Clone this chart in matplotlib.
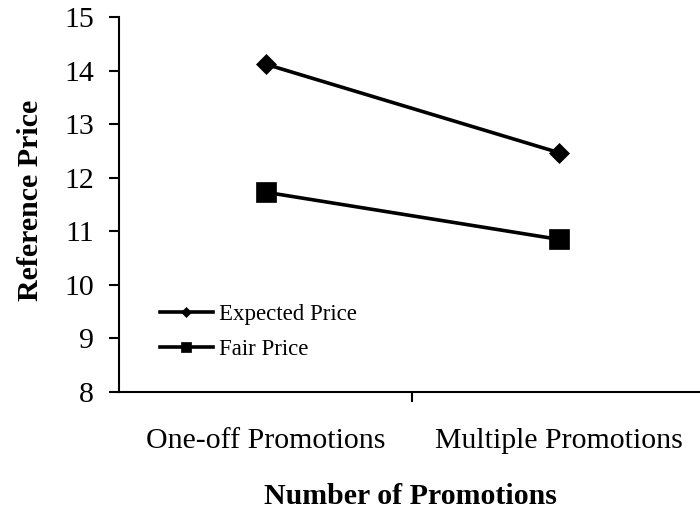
import matplotlib
matplotlib.use("Agg")
import matplotlib.pyplot as plt

categories = ["One-off Promotions", "Multiple Promotions"]
expected_price = [14.12, 12.47]
fair_price = [11.73, 10.85]
y_ticks = [8, 9, 10, 11, 12, 13, 14, 15]

plt.rcParams["font.family"] = ["Liberation Serif", "DejaVu Serif"]

fig = plt.figure(figsize=(7.0, 5.17), dpi=100)
ax = fig.add_axes([119 / 700, 1 - 392 / 517, 586 / 700, 375 / 517])

x = [0.5, 1.5]
ax.plot(x, expected_price, color="black", lw=2.6, marker="D", ms=10.5,
        mew=0.5, label="Expected Price")
ax.plot(x, fair_price, color="black", lw=2.6, marker="s", ms=14,
        mew=0.5, label="Fair Price")

ax.set_xlim(0, 2)
ax.set_ylim(8, 15)
ax.set_yticks(y_ticks)
ax.set_xticks([1.0])
ax.set_xticklabels([""])
ax.xaxis.set_ticks_position("bottom")
for xc, lab in zip(x, categories):
    ax.text(xc, -0.13, lab, transform=ax.get_xaxis_transform(),
            ha="center", va="center", fontsize=21.5)

for s in ["top", "right"]:
    ax.spines[s].set_visible(False)
for s in ["left", "bottom"]:
    ax.spines[s].set_linewidth(1.5)
ax.tick_params(axis="both", direction="out", length=7, width=1.5,
               labelsize=21.5)
ax.tick_params(axis="y", pad=11)

fig.text(31 / 700, 1 - 200 / 517, "Reference Price", rotation=90,
         ha="center", va="center", fontsize=21.5, fontweight="bold")
fig.text(410 / 700, 1 - 497 / 517, "Number of Promotions",
         ha="center", va="center", fontsize=21.5, fontweight="bold")

ax.legend(loc="upper left", bbox_to_anchor=(0.07, 0.235), frameon=False,
          fontsize=16.5, handlelength=2.3, handletextpad=0.26,
          labelspacing=0.6, markerscale=0.5, borderpad=0, borderaxespad=0)

fig.savefig("out.png", dpi=100)
